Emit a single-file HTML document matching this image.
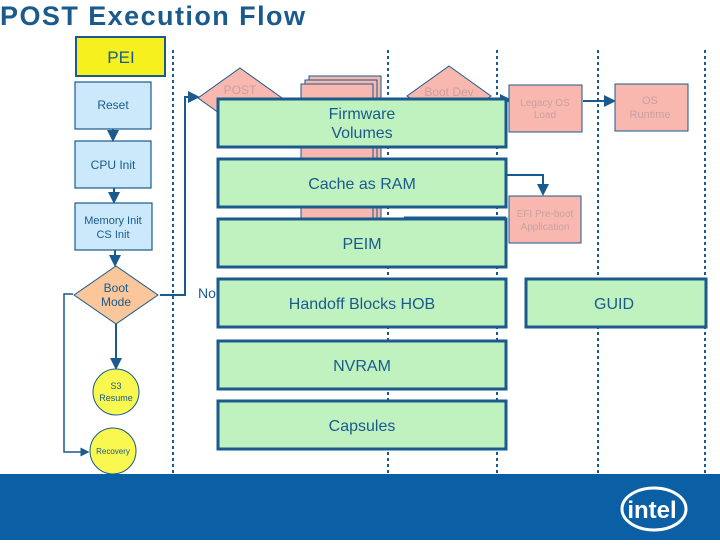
<!DOCTYPE html>
<html><head><style>
body{margin:0;width:720px;height:540px;overflow:hidden;background:#fff;font-family:"Liberation Sans",sans-serif}
</style></head><body>
<svg width="720" height="540" xmlns="http://www.w3.org/2000/svg" font-family="Liberation Sans, sans-serif">
<defs><marker id="a" markerWidth="6" markerHeight="6" refX="5" refY="3" orient="auto"><path d="M0,0L6,3L0,6z" fill="#1a5a8c"/></marker></defs>
<text x="0" y="25" font-size="27" font-weight="bold" fill="#1a5a8c" textLength="305">POST Execution Flow</text>
<g stroke="#1a5a8c" stroke-width="2" stroke-dasharray="3,3" fill="none">
<line x1="173" y1="50" x2="173" y2="476"/><line x1="388" y1="50" x2="388" y2="476"/>
<line x1="497" y1="50" x2="497" y2="476"/><line x1="598" y1="50" x2="598" y2="476"/><line x1="705" y1="50" x2="705" y2="476"/>
</g>
<rect x="76" y="37" width="89" height="39" fill="#f5f01e" stroke="#1a5a8c" stroke-width="2"/>
<text x="121" y="63" font-size="17" fill="#1a5a8c" text-anchor="middle">PEI</text>
<g fill="#cce9fb" stroke="#1a5a8c" stroke-width="1.2">
<rect x="75" y="82" width="76" height="47"/><rect x="75" y="141" width="76" height="47"/><rect x="75" y="203" width="77" height="47"/>
</g>
<g font-size="12" fill="#1a5a8c" text-anchor="middle">
<text x="113" y="109">Reset</text><text x="113" y="169">CPU Init</text><text x="113" y="224" font-size="11">Memory Init</text><text x="113" y="238" font-size="11">CS Init</text>
</g>
<g stroke="#1a5a8c" stroke-width="2" fill="none" marker-end="url(#a)">
<line x1="113" y1="129" x2="113" y2="140"/><line x1="114" y1="188" x2="114" y2="202"/><line x1="115" y1="250" x2="115" y2="265"/>
<line x1="116" y1="323" x2="116" y2="368"/>
<polyline points="73,294 64,294 64,452 88,452" stroke-width="1.5"/>
<polyline points="160,295 185,295 185,97 198,97"/>
<polyline points="506,175 543,175 543,194"/>
<line x1="506" y1="100" x2="510" y2="100"/>
<line x1="583" y1="101" x2="614" y2="101"/>
</g>
<polygon points="116,266 158,295 116,324 74,295" fill="#fbc79a" stroke="#1a5a8c"/>
<text x="116" y="292" font-size="12" fill="#1a5a8c" text-anchor="middle">Boot</text><text x="116" y="306" font-size="12" fill="#1a5a8c" text-anchor="middle">Mode</text>
<circle cx="116" cy="392" r="23" fill="#f8f850" stroke="#1a5a8c"/>
<text x="116" y="389" font-size="9" fill="#1a5a8c" text-anchor="middle">S3</text><text x="116" y="401" font-size="9" fill="#1a5a8c" text-anchor="middle">Resume</text>
<circle cx="113" cy="451" r="23" fill="#f8f850" stroke="#1a5a8c"/>
<text x="113" y="454" font-size="8" fill="#1a5a8c" text-anchor="middle">Recovery</text>
<text x="198" y="298" font-size="14" fill="#1a5a8c">No</text>
<polygon points="240,68 282,98 240,128 198,98" fill="#f8b8b0" stroke="#1a5a8c"/>
<text x="240" y="94" font-size="12" fill="#c9a0a0" text-anchor="middle">POST</text>
<polygon points="449,66 491,96 449,126 407,96" fill="#f8b8b0" stroke="#1a5a8c"/>
<text x="449" y="96" font-size="12" fill="#c9a0a0" text-anchor="middle">Boot Dev</text>
<g fill="#f8b8b0" stroke="#1a5a8c">
<rect x="309" y="76" width="72" height="148"/><rect x="305" y="80" width="72" height="148"/><rect x="301" y="84" width="72" height="148"/>
</g>
<rect x="509" y="85" width="73" height="47" fill="#f8b8b0" stroke="#1a5a8c"/>
<text x="545" y="106" font-size="10" fill="#c9a0a0" text-anchor="middle">Legacy OS</text><text x="545" y="118" font-size="10" fill="#c9a0a0" text-anchor="middle">Load</text>
<rect x="615" y="84" width="73" height="47" fill="#f8b8b0" stroke="#1a5a8c"/>
<text x="650" y="104" font-size="11" fill="#c9a0a0" text-anchor="middle">OS</text><text x="650" y="118" font-size="11" fill="#c9a0a0" text-anchor="middle">Runtime</text>
<rect x="509" y="196" width="72" height="47" fill="#f8b8b0" stroke="#1a5a8c"/>
<text x="545" y="217" font-size="10" fill="#c9a0a0" text-anchor="middle">EFI Pre-boot</text><text x="545" y="230" font-size="10" fill="#c9a0a0" text-anchor="middle">Application</text>
<line x1="506" y1="218" x2="404" y2="218" stroke="#1a5a8c" stroke-width="3"/>
<g fill="#c0f2c0" stroke="#1a5a8c" stroke-width="3">
<rect x="218" y="99" width="288" height="48"/><rect x="218" y="159" width="288" height="48"/><rect x="218" y="219" width="288" height="48"/>
<rect x="218" y="279" width="288" height="48"/><rect x="218" y="341" width="288" height="48"/><rect x="218" y="401" width="288" height="48"/>
<rect x="526" y="279" width="180" height="48"/>
</g>
<g font-size="16" fill="#1a5a8c" text-anchor="middle">
<text x="362" y="119">Firmware</text><text x="362" y="138">Volumes</text>
<text x="362" y="189">Cache as RAM</text><text x="362" y="249">PEIM</text>
<text x="362" y="309">Handoff Blocks HOB</text><text x="362" y="371">NVRAM</text><text x="362" y="431">Capsules</text>
<text x="614" y="309">GUID</text>
</g>
<rect x="0" y="474" width="720" height="66" fill="#0b5fa5"/>
<ellipse cx="654" cy="509" rx="32" ry="21" fill="none" stroke="#fff" stroke-width="3"/>
<text x="652" y="518" font-size="24" font-weight="bold" fill="#fff" text-anchor="middle">intel</text>
</svg>
</body></html>
